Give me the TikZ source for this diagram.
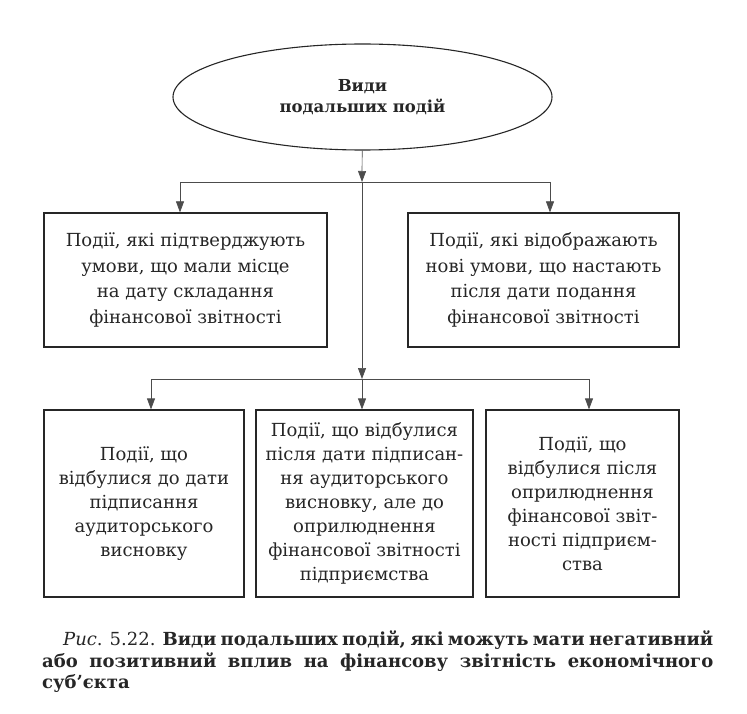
\documentclass[tikz,border=0pt]{standalone}
\usepackage{fontspec}
\setmainfont{DejaVu Serif}
\usetikzlibrary{arrows.meta,shapes.geometric}
\begin{document}
\begin{tikzpicture}[x=1pt,y=-1pt,
  box/.style={draw=black!85, line width=1.2pt, align=center, inner sep=0pt, text=black!85},
  topbox/.style={box, minimum height=134, font=\fontsize{18}{25.7}\selectfont},
  lowbox/.style={box, minimum height=187, font=\fontsize{18}{24}\selectfont},
  conn/.style={draw=black!70, line width=0.7pt},
  arr/.style={conn, -{Triangle[width=8pt,length=11pt]}},
  capline/.style={anchor=base west, inner sep=0pt, text=black!85, font=\fontsize{18}{22}\selectfont}
]
\useasboundingbox (0,0) rectangle (747,714);

\node[ellipse, draw=black!85, line width=1.1pt, minimum width=379, minimum height=106,
      inner sep=0pt, align=center, text=black!85,
      font=\bfseries\fontsize{16.5}{21.5}\selectfont] (el) at (362.5,97) {Види\\подальших подій};

\node[topbox, minimum width=283] (tl) at (185.5,280)
  {Події, які підтверджують\\умови, що мали місце\\на дату складання\\фінансової звітності};
\node[topbox, minimum width=271] (tr) at (543.5,280)
  {Події, які відображають\\нові умови, що настають\\після дати подання\\фінансової звітності};

\node[lowbox, minimum width=200] (bl) at (144,503.5)
  {Події, що\\відбулися до дати\\підписання\\аудиторського\\висновку};
\node[lowbox, minimum width=217] (bm) at (364.5,503.5)
  {Події, що відбулися\\після дати підписан-\\ня аудиторського\\висновку, але до\\оприлюднення\\фінансової звітності\\підприємства};
\node[lowbox, minimum width=193] (br) at (582.5,503.5)
  {Події, що\\відбулися після\\оприлюднення\\фінансової звіт-\\ності підприєм-\\ства};

\coordinate (j1) at (362,182);
\coordinate (j2) at (362,379);
\coordinate (a1) at (180,182);
\coordinate (a2) at (550,182);
\coordinate (b1) at (151,379);
\coordinate (b2) at (589,379);

\draw[arr] (el) -- (j1);
\draw[conn] (a1) -- (a2);
\draw[arr] (a1) -- (a1 |- tl.north);
\draw[arr] (a2) -- (a2 |- tr.north);
\draw[arr] (j1) -- (j2);
\draw[conn] (b1) -- (b2);
\draw[arr] (b1) -- (b1 |- bl.north);
\draw[arr] (j2) -- (j2 |- bm.north);
\draw[arr] (b2) -- (b2 |- br.north);

\node[capline] (cap1) at (63,645)
  {\makebox[650pt][s]{\textit{Рис}. 5.22. \textbf{Види подальших подій, які можуть мати негативний}}};
\node[capline] (cap2) at (42,667)
  {\makebox[671pt][s]{\textbf{або позитивний вплив на фінансову звітність економічного}}};
\node[capline] (cap3) at (42,688) {\textbf{суб’єкта}};
\end{tikzpicture}
\end{document}
